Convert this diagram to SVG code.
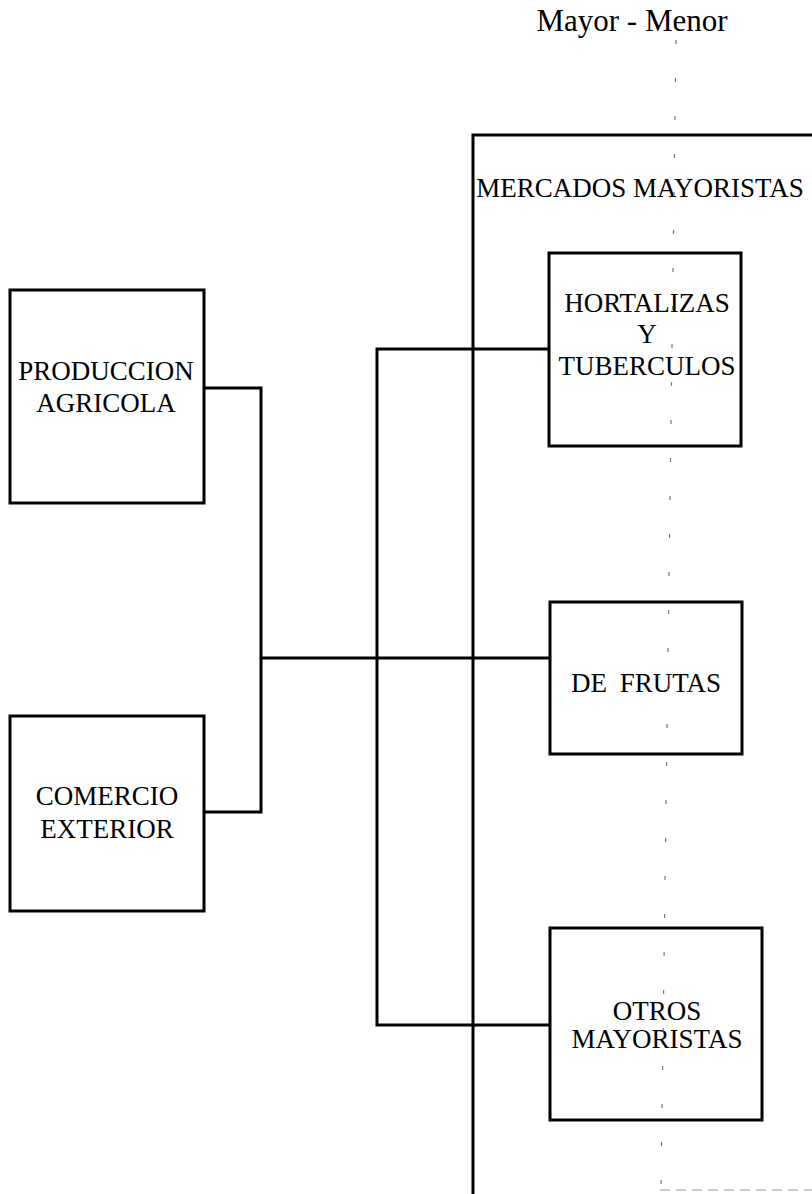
<svg xmlns="http://www.w3.org/2000/svg" width="812" height="1194" viewBox="0 0 812 1194">
<style>
.box{fill:#fff;stroke:#000;stroke-width:3}
.ln{fill:none;stroke:#000;stroke-width:3}
.t{font-family:"Liberation Serif","Times New Roman",serif;font-size:27px;fill:#000;text-anchor:middle}
.dot{fill:none;stroke:#777;stroke-width:1.2;stroke-dasharray:4 34}
</style>
<rect width="812" height="1194" fill="#fff"/>
<g id="title"><text class="t" x="632" y="31" style="font-size:31px">Mayor - Menor</text></g>
<g id="mercados">
<path class="ln" d="M473,1194 V135 H812"/>
<text class="t" x="640" y="197">MERCADOS MAYORISTAS</text>
</g>
<g id="connectors">
<path class="ln" d="M204,388 H261 V812 H204"/>
<path class="ln" d="M261,658 H550"/>
<path class="ln" d="M549,349 H377 V1025 H550"/>
</g>
<g id="produccion">
<rect class="box" x="10" y="290" width="194" height="213"/>
<text class="t" x="106" y="380">PRODUCCION</text>
<text class="t" x="106" y="412">AGRICOLA</text>
</g>
<g id="comercio">
<rect class="box" x="10" y="716" width="194" height="195"/>
<text class="t" x="107" y="805">COMERCIO</text>
<text class="t" x="107" y="838">EXTERIOR</text>
</g>
<g id="hortalizas">
<rect class="box" x="549" y="253" width="192" height="193"/>
<text class="t" x="647" y="312">HORTALIZAS</text>
<text class="t" x="647" y="343">Y</text>
<text class="t" x="647" y="375">TUBERCULOS</text>
</g>
<g id="frutas">
<rect class="box" x="550" y="602" width="192" height="152"/>
<text class="t" x="646" y="692" word-spacing="6">DE FRUTAS</text>
</g>
<g id="otros">
<rect class="box" x="550" y="928" width="212" height="192"/>
<text class="t" x="657" y="1020">OTROS</text>
<text class="t" x="657" y="1048">MAYORISTAS</text>
</g>
<g id="divider">
<path class="dot" d="M676,40 L661,1190"/>
<path d="M660,1190 H812" fill="none" stroke="#bbb" stroke-width="1.5" stroke-dasharray="10 6"/>
</g>
</svg>
